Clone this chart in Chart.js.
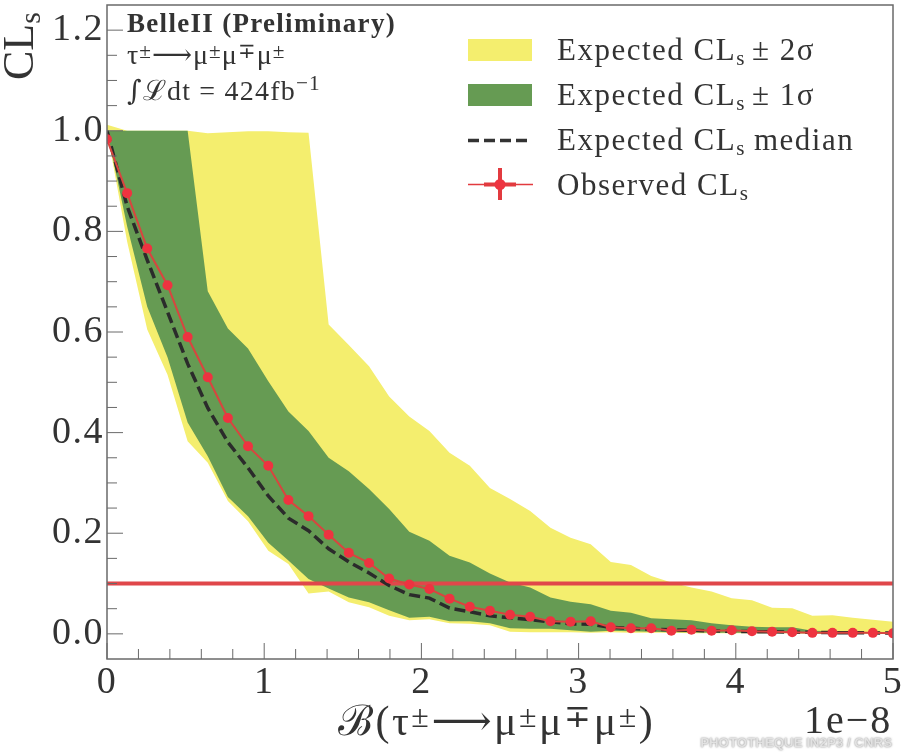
<!DOCTYPE html>
<html><head><meta charset="utf-8">
<style>html,body{margin:0;padding:0;background:#fff}canvas{display:block}</style>
<script src="https://cdn.jsdelivr.net/npm/chart.js@4"></script></head>
<body><canvas id="c" width="907" height="756"></canvas>
<script>
const xValues=[0,0.128,0.256,0.385,0.513,0.641,0.769,0.897,1.026,1.154,1.282,1.41,1.538,1.667,1.795,1.923,2.051,2.179,2.308,2.436,2.564,2.692,2.821,2.949,3.077,3.205,3.333,3.462,3.59,3.718,3.846,3.974,4.103,4.231,4.359,4.487,4.615,4.744,4.872,5];
const observed=[0.983,0.876,0.766,0.693,0.59,0.51,0.429,0.373,0.334,0.266,0.234,0.197,0.161,0.141,0.11,0.098,0.089,0.07,0.054,0.046,0.038,0.034,0.025,0.024,0.025,0.013,0.011,0.011,0.006,0.008,0.006,0.007,0.005,0.004,0.003,0.002,0.002,0.002,0.002,0.001];
const median=[1,0.85,0.743,0.64,0.537,0.449,0.381,0.33,0.274,0.23,0.205,0.169,0.143,0.121,0.096,0.078,0.071,0.051,0.044,0.036,0.032,0.028,0.024,0.02,0.019,0.013,0.011,0.009,0.008,0.007,0.006,0.005,0.0045,0.004,0.0035,0.003,0.0025,0.002,0.002,0.0015];
const upper1=[1,1,1,1,1,0.681,0.607,0.567,0.502,0.442,0.403,0.35,0.323,0.288,0.248,0.203,0.185,0.155,0.142,0.12,0.102,0.092,0.072,0.064,0.059,0.046,0.042,0.031,0.029,0.027,0.021,0.017,0.014,0.013,0.013,0.006,0.005,0.004,0.003,0.003];
const lower1=[1,0.81,0.65,0.55,0.42,0.353,0.272,0.234,0.181,0.146,0.109,0.09,0.072,0.063,0.047,0.032,0.034,0.025,0.025,0.021,0.011,0.01,0.01,0.007,0.004,0.006,0.005,0.004,0.003,0.003,0.002,0.002,0.002,0.002,0.001,0.001,0.001,0.001,0.001,0.001];
const upper2=[1.012,1,1,1,1,0.995,0.997,0.999,0.999,0.997,0.996,0.615,0.574,0.532,0.472,0.432,0.403,0.36,0.334,0.29,0.268,0.244,0.211,0.191,0.178,0.143,0.137,0.115,0.102,0.092,0.084,0.071,0.067,0.052,0.051,0.036,0.037,0.032,0.028,0.024];
const lower2=[1,0.78,0.605,0.515,0.383,0.34,0.264,0.224,0.165,0.139,0.08,0.084,0.063,0.053,0.036,0.027,0.029,0.021,0.02,0.017,0.004,0.003,0.003,0.003,0.002,0.003,0.002,0.002,0.002,0.001,0.001,0.001,0.001,0.001,0.001,0,0,0,0,0];
const limitX=[0,5];
const limitY=[0.1,0.1];
const yMajor=[0,0.2,0.4,0.6,0.8,1,1.2];
const yMinor=[0.05,0.1,0.15,0.25,0.3,0.35,0.45,0.5,0.55,0.65,0.7,0.75,0.85,0.9,0.95,1.05,1.1,1.15];
const xMajor=[0,1,2,3,4,5];
const xMinor=[0.2,0.4,0.6,0.8,1.2,1.4,1.6,1.8,2.2,2.4,2.6,2.8,3.2,3.4,3.6,3.8,4.2,4.4,4.6,4.8];
const legendLabels=['Expected CL','Expected CL','Expected CL','Observed CL'];

const INK='#333',FRAME='#6a6a6a',YEL='#f4ee6e',GRN='#669b53',RED='#e23a3f',MARK='#ee3340';
const SERIF='"Liberation Serif"',SYM='"DejaVu Serif"';
const pts=a=>a.map((y,i)=>({x:xValues[i],y}));

function runs(ctx,list,x,y,size,weight,spacing){
  let cx=x;
  ctx.textBaseline='alphabetic';ctx.textAlign='left';
  ctx.letterSpacing=(spacing||0)+'px';
  for(const r of list){
    const s=r.sub?size*0.68:r.sup?size*0.76:size;
    const dy=r.sub?size*0.16:r.sup?-size*(r.up||0.2):0;
    ctx.font=(weight||'normal')+' '+s+'px '+(r.sym?SYM:SERIF);
    ctx.fillText(r.t,cx,y+dy);
    cx+=ctx.measureText(r.t).width+(r.gap||0);
  }
  ctx.letterSpacing='0px';
  return cx;
}
const ARROW='⟶';
const decor={id:'decor',
  beforeDraw(chart){chart.ctx.letterSpacing='1.5px';},
  afterDraw(chart){
    const {ctx,chartArea:a,scales:{x,y}}=chart;
    ctx.letterSpacing='0px';
    ctx.save();
    ctx.strokeStyle=FRAME;ctx.lineWidth=1.5;
    ctx.strokeRect(a.left,a.top,a.right-a.left,a.bottom-a.top);
    const tick=(scale,v,len)=>{
      ctx.beginPath();
      if(scale===x){const p=x.getPixelForValue(v);ctx.moveTo(p,a.bottom);ctx.lineTo(p,a.bottom-len);}
      else{const p=y.getPixelForValue(v);ctx.moveTo(a.left,p);ctx.lineTo(a.left+len,p);}
      ctx.stroke();
    };
    ctx.lineWidth=1;
    xMajor.forEach(v=>tick(x,v,16));xMinor.forEach(v=>tick(x,v,10));
    yMajor.forEach(v=>tick(y,v,16));yMinor.forEach(v=>tick(y,v,10));

    ctx.fillStyle=INK;
    // y title
    ctx.save();ctx.translate(33,80);ctx.rotate(-Math.PI/2);
    runs(ctx,[{t:'CL'},{t:'s',sub:true}],0,0,44);
    ctx.restore();
    // x title
    runs(ctx,[{t:'ℬ',sym:true},{t:'(τ'},{t:'±',sup:true},{t:ARROW,sym:true},{t:'μ'},{t:'±',sup:true},{t:'μ'},{t:'∓',sup:true},{t:'μ'},{t:'±',sup:true},{t:')'}],338,735,42,'normal',2.5);
    runs(ctx,[{t:'1e−8'}],804,733,40,'normal',2);
    // annotation
    runs(ctx,[{t:'BelleII (Preliminary)'}],127,32,27,'bold',1.3);
    runs(ctx,[{t:'τ'},{t:'±',sup:true},{t:ARROW,sym:true},{t:'μ'},{t:'±',sup:true},{t:'μ'},{t:'∓',sup:true},{t:'μ'},{t:'±',sup:true}],127,64,28,'normal',1);
    runs(ctx,[{t:'∫',sym:true},{t:'ℒ',sym:true},{t:'dt = 424fb'},{t:'−1',sup:true,up:0.36}],127,100,28,'normal',1.2);
    // legend
    ctx.fillStyle=YEL;ctx.fillRect(468,39,64,22);
    ctx.fillStyle=GRN;ctx.fillRect(468,84,64,22);
    ctx.strokeStyle=INK;ctx.lineWidth=3.5;ctx.setLineDash([11,5]);
    ctx.beginPath();ctx.moveTo(468,140.5);ctx.lineTo(532,140.5);ctx.stroke();ctx.setLineDash([]);
    ctx.strokeStyle=RED;ctx.lineWidth=1.5;ctx.beginPath();ctx.moveTo(468,184.5);ctx.lineTo(533,184.5);ctx.stroke();
    ctx.lineWidth=4;ctx.beginPath();ctx.moveTo(484,184.5);ctx.lineTo(516,184.5);ctx.moveTo(500,168);ctx.lineTo(500,200);ctx.stroke();
    ctx.fillStyle=MARK;ctx.beginPath();ctx.arc(500,184.5,5.5,0,7);ctx.fill();
    ctx.fillStyle=INK;
    runs(ctx,[{t:legendLabels[0]},{t:'s',sub:true,gap:6},{t:'± 2σ'}],557,60,31,'normal',1.5);
    runs(ctx,[{t:legendLabels[1]},{t:'s',sub:true,gap:6},{t:'± 1σ'}],557,105,31,'normal',1.5);
    runs(ctx,[{t:legendLabels[2]},{t:'s',sub:true,gap:8},{t:'median'}],557,150,31,'normal',1.5);
    runs(ctx,[{t:legendLabels[3]},{t:'s',sub:true}],557,195,31,'normal',1.5);
    // watermark
    ctx.font='bold 13.3px "Liberation Sans"';ctx.textAlign='right';ctx.textBaseline='alphabetic';
    ctx.shadowColor='rgba(90,90,90,.8)';ctx.shadowBlur=2;ctx.fillStyle='#e2e2e2';
    ctx.fillText('PHOTOTHEQUE IN2P3 / CNRS',892,747);
    ctx.restore();
  }
};
const noPad=s=>{s.paddingTop=0;s.paddingBottom=0;s.paddingLeft=0;s.paddingRight=0;};
new Chart(document.getElementById('c'),{
  type:'line',
  plugins:[decor],
  data:{datasets:[
    {data:pts(upper2),fill:'+1',backgroundColor:YEL,borderWidth:0,pointRadius:0,tension:0,order:6},
    {data:pts(lower2),fill:false,borderWidth:0,pointRadius:0,tension:0,order:7},
    {data:pts(upper1),fill:'+1',backgroundColor:GRN,borderWidth:0,pointRadius:0,tension:0,order:4},
    {data:pts(lower1),fill:false,borderWidth:0,pointRadius:0,tension:0,order:5},
    {data:limitX.map((x,i)=>({x,y:limitY[i]})),borderColor:'#e0474a',borderWidth:4,pointRadius:0,fill:false,order:3},
    {data:pts(median),borderColor:'#2b2b2b',borderWidth:3.5,borderDash:[11,5],pointRadius:0,fill:false,tension:0,order:2},
    {data:pts(observed),borderColor:'#d8453f',borderWidth:2,pointRadius:5,pointBackgroundColor:MARK,pointBorderColor:MARK,pointBorderWidth:0,fill:false,tension:0,order:1}
  ]},
  options:{
    responsive:false,animation:false,devicePixelRatio:1,
    layout:{padding:{top:3,right:14,left:0,bottom:0}},
    plugins:{legend:{display:false},tooltip:{enabled:false}},
    scales:{
      x:{type:'linear',min:0,max:5,
        afterBuildTicks(s){s.ticks=xMajor.map(value=>({value}));},
        afterFit(s){s.height=97;noPad(s);},
        grid:{display:false},border:{display:false},
        ticks:{autoSkip:false,maxRotation:0,padding:-7,color:INK,font:{family:'Liberation Serif',size:38},callback:v=>String(v)}},
      y:{type:'linear',min:-0.05,max:1.25,
        afterBuildTicks(s){s.ticks=yMajor.map(value=>({value}));},
        afterFit(s){s.width=107;noPad(s);},
        grid:{display:false},border:{display:false},
        ticks:{autoSkip:false,padding:-5,color:INK,font:{family:'Liberation Serif',size:38},callback:v=>Number(v).toFixed(1)}}
    }
  }
});
</script></body></html>
